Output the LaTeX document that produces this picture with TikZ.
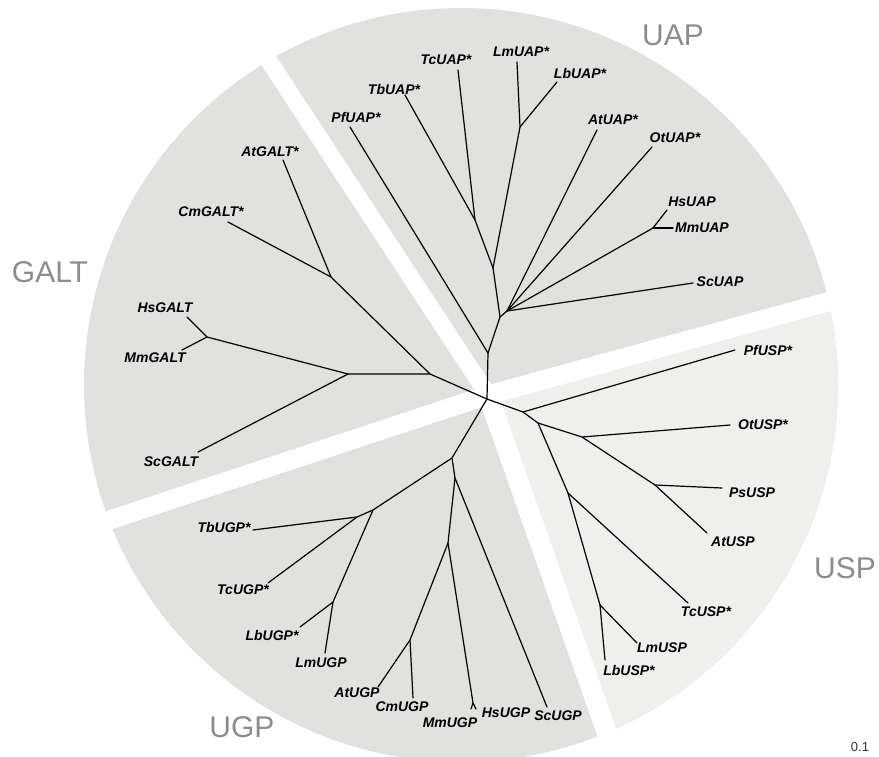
\documentclass[tikz,border=0pt]{standalone}
\usepackage{fontspec}
\setmainfont{Liberation Sans}

\definecolor{sectorgray}{RGB}{225,225,223}
\definecolor{sectorlight}{RGB}{239,239,237}
\definecolor{grouptext}{RGB}{140,140,140}

\begin{document}
\begin{tikzpicture}[
    % tree branches
    branch/.style={line width=1.2pt, line cap=round, line join=round},
    % leaf names
    leaf/.style={font=\fontsize{14}{14}\selectfont\bfseries\itshape, inner sep=0pt},
    % family names in the sectors
    family/.style={font=\fontsize{30}{30}\selectfont, text=grouptext, inner sep=0pt},
    % white bands between the sectors
    gapband/.style={white, line width=19pt}
,x=1pt,y=-1pt]

    \useasboundingbox (0,0) rectangle (879,756);

    % Sector disc and the lighter USP wedge
    \coordinate (C) at (461,385);
    \coordinate (O) at (488,395);
    \fill[sectorgray] (C) circle (377pt);
    \begin{scope}
        \clip (C) circle (377pt);
        \fill[sectorlight] (O) -- (900,282) -- (900,790) -- (627,790) -- cycle;
    \end{scope}

    % White gaps between the sectors
    \coordinate (Gap1) at (229,0);
    \coordinate (Gap2) at (900,282);
    \coordinate (Gap3) at (627,790);
    \coordinate (Gap4) at (40,543);
    \draw[gapband, line width=17pt] (O) -- (Gap1);
    \draw[gapband] (O) -- (Gap2);
    \draw[gapband, line width=20pt] (O) -- (Gap3);
    \draw[gapband] (O) -- (Gap4);
    \fill[white] (O) circle (9pt);

    % Family names
    \node[family] (nGALT) at (50,272) {GALT};
    \node[family] (nUAP) at (673,35) {UAP};
    \node[family] (nUSP) at (845,568) {USP};
    \node[family] (nUGP) at (242,727) {UGP};
    \node[font=\fontsize{13}{13}\selectfont, text=black!80, inner sep=0pt] (scale) at (860,747) {0.1};

    % Centre of the tree
    \coordinate (R) at (487,399);

    % UAP inner nodes and tips
    \coordinate (U1) at (488,353);
    \coordinate (U2) at (500,317);
    \coordinate (U3) at (507,311);
    \coordinate (U4) at (493,268);
    \coordinate (U5) at (520,127);
    \coordinate (U6) at (475,220);
    \coordinate (U7) at (653,228);
    \coordinate (PfUAP) at (350,127);
    \coordinate (TbUAP) at (405,95);
    \coordinate (TcUAP) at (458,70);
    \coordinate (LmUAP) at (517,62);
    \coordinate (LbUAP) at (557,82);
    \coordinate (AtUAP) at (597,130);
    \coordinate (OtUAP) at (652,147);
    \coordinate (HsUAP) at (667,210);
    \coordinate (MmUAP) at (673,228);
    \coordinate (ScUAP) at (693,283);

    % GALT inner nodes and tips
    \coordinate (G1) at (430,374);
    \coordinate (G2) at (348,374);
    \coordinate (G3) at (331,277);
    \coordinate (G4) at (207,337);
    \coordinate (AtGALT) at (283,160);
    \coordinate (CmGALT) at (228,222);
    \coordinate (HsGALT) at (187,317);
    \coordinate (MmGALT) at (182,350);
    \coordinate (ScGALT) at (198,452);

    % UGP inner nodes and tips
    \coordinate (P1) at (452,458);
    \coordinate (P2) at (373,510);
    \coordinate (P3) at (357,517);
    \coordinate (P4) at (333,602);
    \coordinate (P5) at (455,478);
    \coordinate (P6) at (448,543);
    \coordinate (P7) at (410,640);
    \coordinate (P8) at (473,703);
    \coordinate (TbUGP) at (253,530);
    \coordinate (TcUGP) at (268,583);
    \coordinate (LbUGP) at (300,627);
    \coordinate (LmUGP) at (325,653);
    \coordinate (AtUGP) at (378,687);
    \coordinate (CmUGP) at (413,698);
    \coordinate (MmUGP) at (471,709);
    \coordinate (HsUGP) at (476,709);
    \coordinate (ScUGP) at (547,707);

    % USP inner nodes and tips
    \coordinate (S1) at (523,412);
    \coordinate (S2) at (538,423);
    \coordinate (S3) at (582,437);
    \coordinate (S4) at (655,485);
    \coordinate (S5) at (568,493);
    \coordinate (S6) at (600,605);
    \coordinate (PfUSP) at (735,350);
    \coordinate (OtUSP) at (730,425);
    \coordinate (PsUSP) at (722,488);
    \coordinate (AtUSP) at (707,533);
    \coordinate (TcUSP) at (688,603);
    \coordinate (LmUSP) at (637,643);
    \coordinate (LbUSP) at (605,660);

    % UAP branches
    \draw[branch] (R) -- (U1) -- (PfUAP);
    \draw[branch] (U1) -- (U2) -- (U3);
    \draw[branch] (U2) -- (U4) -- (U6) -- (TbUAP);
    \draw[branch] (U6) -- (TcUAP);
    \draw[branch] (U4) -- (U5) -- (LmUAP);
    \draw[branch] (U5) -- (LbUAP);
    \draw[branch] (U3) -- (AtUAP);
    \draw[branch] (U3) -- (OtUAP);
    \draw[branch] (U3) -- (U7) -- (HsUAP);
    \draw[branch] (U7) -- (MmUAP);
    \draw[branch] (U3) -- (ScUAP);

    % GALT branches
    \draw[branch] (R) -- (G1) -- (G2);
    \draw[branch] (G1) -- (G3) -- (AtGALT);
    \draw[branch] (G3) -- (CmGALT);
    \draw[branch] (G2) -- (G4) -- (HsGALT);
    \draw[branch] (G4) -- (MmGALT);
    \draw[branch] (G2) -- (ScGALT);

    % UGP branches
    \draw[branch] (R) -- (P1) -- (P2) -- (P3) -- (TbUGP);
    \draw[branch] (P3) -- (TcUGP);
    \draw[branch] (P2) -- (P4) -- (LbUGP);
    \draw[branch] (P4) -- (LmUGP);
    \draw[branch] (P1) -- (P5) -- (ScUGP);
    \draw[branch] (P5) -- (P6) -- (P7) -- (AtUGP);
    \draw[branch] (P7) -- (CmUGP);
    \draw[branch] (P6) -- (P8) -- (MmUGP);
    \draw[branch] (P8) -- (HsUGP);

    % USP branches
    \draw[branch] (R) -- (S1) -- (PfUSP);
    \draw[branch] (S1) -- (S2) -- (S3) -- (OtUSP);
    \draw[branch] (S3) -- (S4) -- (PsUSP);
    \draw[branch] (S4) -- (AtUSP);
    \draw[branch] (S2) -- (S5) -- (TcUSP);
    \draw[branch] (S5) -- (S6) -- (LmUSP);
    \draw[branch] (S6) -- (LbUSP);

    % Leaf names
    \node[leaf] (lPfUAP) at (356,117) {PfUAP*};
    \node[leaf] (lTbUAP) at (394,89) {TbUAP*};
    \node[leaf] (lTcUAP) at (446,60) {TcUAP*};
    \node[leaf] (lLmUAP) at (521,52) {LmUAP*};
    \node[leaf] (lLbUAP) at (580,73) {LbUAP*};
    \node[leaf] (lAtUAP) at (613,120) {AtUAP*};
    \node[leaf] (lOtUAP) at (675,138) {OtUAP*};
    \node[leaf] (lHsUAP) at (692,202) {HsUAP};
    \node[leaf] (lMmUAP) at (702,228) {MmUAP};
    \node[leaf] (lScUAP) at (720,282) {ScUAP};

    \node[leaf] (lAtGALT) at (270,152) {AtGALT*};
    \node[leaf] (lCmGALT) at (211,212) {CmGALT*};
    \node[leaf] (lHsGALT) at (165,308) {HsGALT};
    \node[leaf] (lMmGALT) at (155,358) {MmGALT};
    \node[leaf] (lScGALT) at (171,462) {ScGALT};

    \node[leaf] (lTbUGP) at (224,527) {TbUGP*};
    \node[leaf] (lTcUGP) at (243,590) {TcUGP*};
    \node[leaf] (lLbUGP) at (272,635) {LbUGP*};
    \node[leaf] (lLmUGP) at (321,663) {LmUGP};
    \node[leaf] (lAtUGP) at (357,693) {AtUGP};
    \node[leaf] (lCmUGP) at (402,707) {CmUGP};
    \node[leaf] (lMmUGP) at (450,723) {MmUGP};
    \node[leaf] (lHsUGP) at (506,713) {HsUGP};
    \node[leaf] (lScUGP) at (558,716) {ScUGP};

    \node[leaf] (lPfUSP) at (768,350) {PfUSP*};
    \node[leaf] (lOtUSP) at (763,425) {OtUSP*};
    \node[leaf] (lPsUSP) at (752,493) {PsUSP};
    \node[leaf] (lAtUSP) at (733,542) {AtUSP};
    \node[leaf] (lTcUSP) at (706,612) {TcUSP*};
    \node[leaf] (lLmUSP) at (662,648) {LmUSP};
    \node[leaf] (lLbUSP) at (629,670) {LbUSP*};
\end{tikzpicture}
\end{document}
